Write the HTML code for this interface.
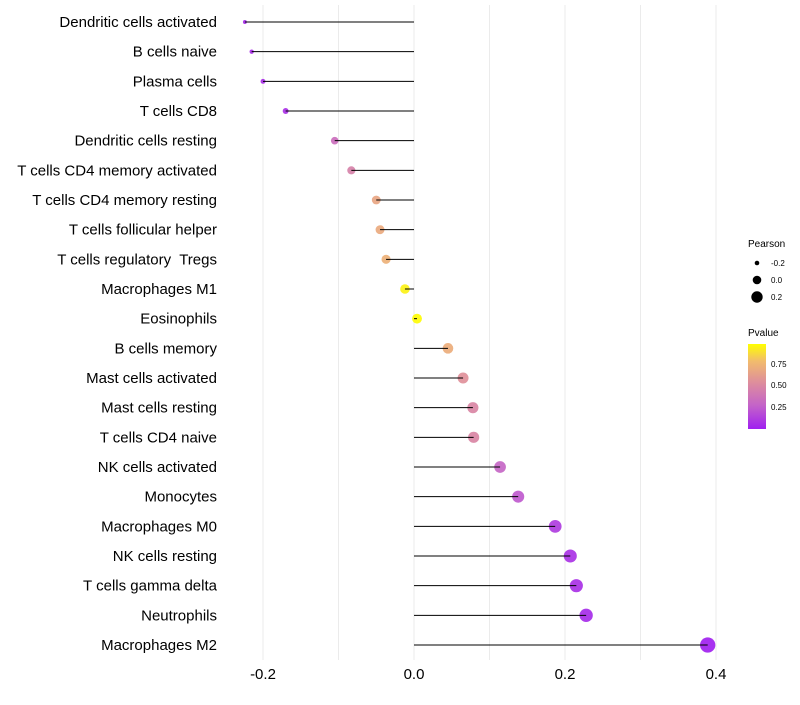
<!DOCTYPE html>
<html><head><meta charset="utf-8"><style>
body{margin:0;background:#fff;font-family:"Liberation Sans",sans-serif}
svg text{font-family:"Liberation Sans",sans-serif;white-space:pre}
</style></head><body>
<svg id="chart" width="800" height="700">
<defs><linearGradient id="pg" x1="0" y1="1" x2="0" y2="0">
<stop offset="0" stop-color="#A020F0"/><stop offset="0.28" stop-color="#C464C8"/><stop offset="0.55" stop-color="#DE8E9C"/><stop offset="0.8" stop-color="#F2BC6C"/><stop offset="1" stop-color="#FFFF00"/></linearGradient></defs>
<g id="grid"></g><g id="marks"></g><g id="labels"></g><g id="ticks"></g>
<g>
<text x="748" y="247" font-size="10">Pearson</text>
<circle cx="757" cy="263" r="2.3" fill="#000"/><text x="771" y="266" font-size="8">-0.2</text>
<circle cx="757" cy="280" r="4.3" fill="#000"/><text x="771" y="283" font-size="8">0.0</text>
<circle cx="757" cy="297" r="5.7" fill="#000"/><text x="771" y="300" font-size="8">0.2</text>
<text x="748" y="336" font-size="10">Pvalue</text>
<rect x="748" y="344" width="18" height="85" fill="url(#pg)"/>
<text x="771" y="367" font-size="8">0.75</text><text x="771" y="388" font-size="8">0.50</text><text x="771" y="410" font-size="8">0.25</text>
</g>
</svg>
<script>
const categories=["Dendritic cells activated","B cells naive","Plasma cells","T cells CD8","Dendritic cells resting","T cells CD4 memory activated","T cells CD4 memory resting","T cells follicular helper","T cells regulatory  Tregs","Macrophages M1","Eosinophils","B cells memory","Mast cells activated","Mast cells resting","T cells CD4 naive","NK cells activated","Monocytes","Macrophages M0","NK cells resting","T cells gamma delta","Neutrophils","Macrophages M2"];
const pearson=[-0.224,-0.215,-0.2,-0.17,-0.105,-0.083,-0.05,-0.045,-0.037,-0.012,0.004,0.045,0.065,0.078,0.079,0.114,0.138,0.187,0.207,0.215,0.228,0.389];
const pvalues=[0.05,0.06,0.06,0.07,0.35,0.47,0.68,0.7,0.74,0.96,0.99,0.72,0.56,0.5,0.5,0.3,0.24,0.12,0.08,0.07,0.05,0.005];
const xticks=[-0.2,0.0,0.2,0.4];
const ns="http://www.w3.org/2000/svg";
const X=v=>414+v*755;
const Y=i=>22+i*(623/21);
function col(p){const st=[[0,[160,32,240]],[0.28,[196,100,200]],[0.55,[222,142,156]],[0.8,[242,188,108]],[1,[255,255,0]]];
for(let k=1;k<st.length;k++){if(p<=st[k][0]){const a=st[k-1],b=st[k],t=(p-a[0])/(b[0]-a[0]);return "rgb("+a[1].map((c,j)=>Math.round(c+(b[1][j]-c)*t)).join(",")+")";}}return "rgb(255,255,0)";}
function mk(t,a,p){const e=document.createElementNS(ns,t);for(const k in a)e.setAttribute(k,a[k]);p.appendChild(e);return e;}
const g=document.getElementById("grid"),m=document.getElementById("marks"),lb=document.getElementById("labels"),tk=document.getElementById("ticks");
for(let v=-0.2;v<=0.41;v+=0.1){const l=mk("line",{x1:X(v),x2:X(v),y1:5,y2:660,stroke:"#ebebeb","stroke-width":1},g);

}
categories.forEach((c,i)=>{
const y=Y(i);
const cc=mk("circle",{cx:X(pearson[i]),cy:y,r:Math.sqrt(Math.max(2.5,24+90*pearson[i])),fill:col(pvalues[i]),"fill-opacity":0.92},m);


const s=mk("line",{x1:X(0),x2:X(pearson[i]),y1:y,y2:y,stroke:"#000","stroke-width":1},m);


const t=mk("text",{x:217,y:y+5,"text-anchor":"end","font-size":15,fill:"#000"},lb);t.textContent=c;

});
xticks.forEach(v=>{const t=mk("text",{x:X(v),y:679,"text-anchor":"middle","font-size":15,fill:"#000"},tk);t.textContent=v.toFixed(1);

});
</script>
</body></html>
